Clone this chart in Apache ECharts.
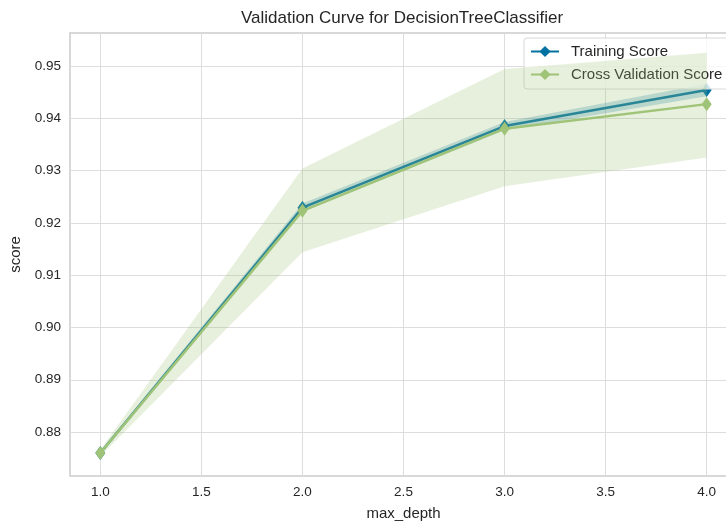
<!DOCTYPE html>
<html>
<head>
<meta charset="utf-8">
<script src="https://cdn.jsdelivr.net/npm/echarts@6/dist/echarts.min.js"></script>
<style>html,body{margin:0;padding:0;background:#fff}#c{width:726px;height:524px}</style>
</head>
<body>
<div id="c"></div>
<script>
const depths = [1.0, 2.0, 3.0, 4.0];
const trainMean = [0.8760, 0.9229, 0.9385, 0.9454];
const trainLower = [0.8756, 0.9221, 0.9377, 0.9442];
const trainUpper = [0.8764, 0.9237, 0.9393, 0.9466];
const cvMean = [0.8760, 0.9223, 0.9380, 0.9427];
const cvLower = [0.8754, 0.9144, 0.9270, 0.9325];
const cvUpper = [0.8766, 0.9304, 0.9494, 0.9525];
const yTicks = [0.88, 0.89, 0.90, 0.91, 0.92, 0.93, 0.94, 0.95];
const xTicks = [1.0, 1.5, 2.0, 2.5, 3.0, 3.5, 4.0];

const FONT = '"Liberation Sans", Arial, sans-serif';
const blue = '#0272a2', green = '#9fc377';

function band(lower, upper, color, z) {
  return {
    type: 'custom', z: z, silent: true, clip: true,
    data: [[depths[0], upper[0]]],
    renderItem: function (params, api) {
      const pts = [];
      for (let i = 0; i < depths.length; i++) pts.push(api.coord([depths[i], upper[i]]));
      for (let i = depths.length - 1; i >= 0; i--) pts.push(api.coord([depths[i], lower[i]]));
      return { type: 'polygon', shape: { points: pts }, style: { fill: color, opacity: 0.25 } };
    }
  };
}
function line(name, vals, color, z) {
  return {
    name: name, type: 'line', z: z,
    data: depths.map((d, i) => [d, vals[i]]),
    symbol: 'diamond', symbolSize: [10, 14], showSymbol: true,
    lineStyle: { color: color, width: 2.5 },
    itemStyle: { color: color },
    emphasis: { disabled: true }
  };
}

const chart = echarts.init(document.getElementById('c'));
chart.setOption({
  animation: false,
  backgroundColor: '#fff',
  title: {
    text: 'Validation Curve for DecisionTreeClassifier',
    left: 397, top: 5, textAlign: 'center',
    textStyle: { fontFamily: FONT, fontSize: 17, fontWeight: 'normal', color: '#262626' }
  },
  grid: { left: 70, top: 33, height: 443, width: 667, containLabel: false, outerBoundsMode: 'none',
          show: true, borderColor: '#cccccc', borderWidth: 1.5, backgroundColor: 'transparent' },
  legend: {
    orient: 'vertical', left: 524, top: 38,
    padding: [6, 8, 7, 6], itemGap: 8, itemWidth: 28, itemHeight: 14,
    backgroundColor: 'rgba(255,255,255,0.8)', borderColor: '#d8d8d8', borderWidth: 1, borderRadius: 3,
    textStyle: { fontFamily: FONT, fontSize: 15, color: '#262626', padding: [0, 0, 0, 7] },
    data: ['Training Score', 'Cross Validation Score']
  },
  xAxis: {
    type: 'value', min: 0.85, max: 4.15,
    name: 'max_depth', nameLocation: 'middle', nameGap: 30,
    nameTextStyle: { fontFamily: FONT, fontSize: 15, color: '#262626' },
    axisLine: { show: false }, axisTick: { show: false, customValues: xTicks },
    axisLabel: { customValues: xTicks, formatter: v => v.toFixed(1), fontFamily: FONT, fontSize: 13.5, color: '#262626', margin: 9 },
    splitLine: { show: true, lineStyle: { color: '#dddddd', width: 1 } }
  },
  yAxis: {
    type: 'value', min: 0.8716, max: 0.9563,
    name: 'score', nameLocation: 'middle', nameGap: 45, nameRotate: 90,
    nameTextStyle: { fontFamily: FONT, fontSize: 15, color: '#262626' },
    axisLine: { show: false }, axisTick: { show: false, customValues: yTicks },
    axisLabel: { customValues: yTicks, formatter: v => v.toFixed(2), fontFamily: FONT, fontSize: 13.5, color: '#262626', margin: 9 },
    splitLine: { show: true, lineStyle: { color: '#dddddd', width: 1 } }
  },
  series: [
    band(trainLower, trainUpper, blue, 2),
    line('Training Score', trainMean, blue, 3),
    band(cvLower, cvUpper, green, 4),
    line('Cross Validation Score', cvMean, green, 5)
  ]
});
</script>
</body>
</html>
